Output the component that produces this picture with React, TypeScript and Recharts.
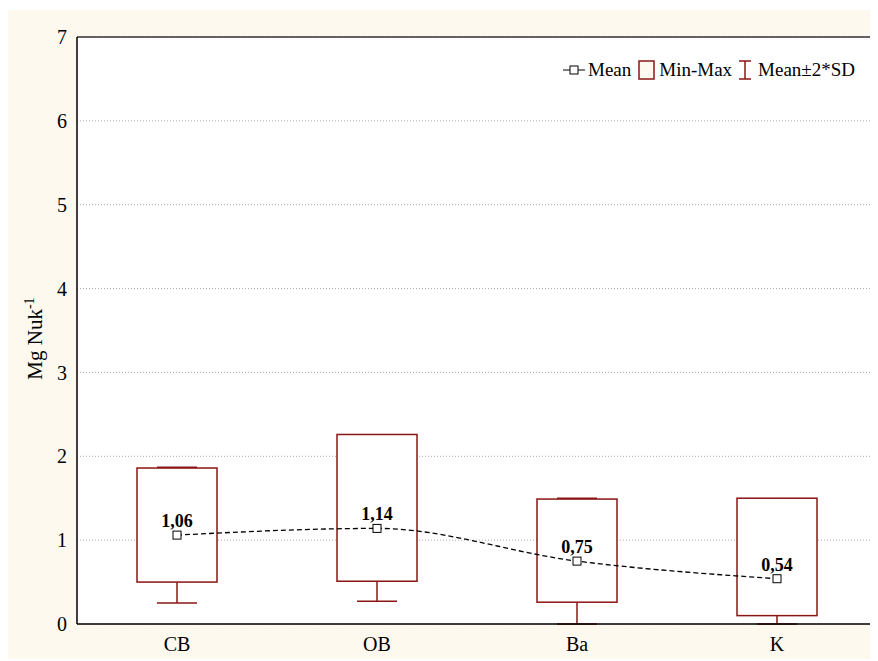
import {
  ComposedChart,
  Bar,
  Line,
  XAxis,
  YAxis,
  CartesianGrid,
  Legend,
  LabelList,
} from 'recharts';

const categories = ['CB', 'OB', 'Ba', 'K'];
const meanValues = [1.06, 1.14, 0.75, 0.54];
const minValues = [0.5, 0.51, 0.26, 0.1];
const maxValues = [1.86, 2.26, 1.49, 1.5];
// mean ± 2*SD, clipped at the axis floor
const sdLow = [0.25, 0.27, 0, 0];
const sdHigh = [1.87, 2.01, 1.5, 1.14];
const yTicks = [0, 1, 2, 3, 4, 5, 6, 7];

const data = categories.map((name, i) => ({
  name,
  mean: meanValues[i],
  min: minValues[i],
  max: maxValues[i],
  lo: sdLow[i],
  hi: sdHigh[i],
}));

const RED = '#8b1414';
const CREAM = '#fdf9ef';
const FONT = '"Liberation Serif", "Times New Roman", serif';

function BoxShape(props: any) {
  const { x, y, width, height, payload } = props;
  const top = Math.min(y, y + height);
  const h = Math.abs(height);
  const ppu = h / (payload.max - payload.min);
  const toY = (v: number) => top + (payload.max - v) * ppu;
  const cx = x + width / 2;
  const cap = width / 4;
  const yLo = toY(payload.lo);
  const yHi = toY(payload.hi);
  return (
    <g>
      <line x1={cx} x2={cx} y1={top + h} y2={yLo} stroke={RED} strokeWidth={1.5} />
      <line x1={cx - cap} x2={cx + cap} y1={yLo} y2={yLo} stroke={RED} strokeWidth={1.5} />
      <line x1={cx} x2={cx} y1={top} y2={yHi} stroke={RED} strokeWidth={1.5} />
      <line x1={cx - cap} x2={cx + cap} y1={yHi} y2={yHi} stroke={RED} strokeWidth={1.5} />
      <rect x={x} y={top} width={width} height={h} fill="#fff" stroke={RED} strokeWidth={1.5} />
    </g>
  );
}

function MeanDot(props: any) {
  const { cx, cy } = props;
  if (cx == null || cy == null) return null;
  return <rect x={cx - 4} y={cy - 4} width={8} height={8} fill="#fff" stroke="#000" strokeWidth={1} />;
}

function YLabel(props: any) {
  const { viewBox } = props;
  const cy = viewBox.y + viewBox.height / 2 + 8;
  const x = 35;
  return (
    <text
      x={x}
      y={cy}
      transform={`rotate(-90 ${x} ${cy})`}
      textAnchor="middle"
      fontFamily={FONT}
      fontSize={21}
      fill="#000"
    >
      Mg Nuk
      <tspan dy={-8} fontSize={14}>-1</tspan>
    </text>
  );
}

function LegendContent() {
  const text = { fontFamily: FONT, fontSize: 19, color: '#000', lineHeight: '20px' };
  return (
    <div style={{ display: 'flex', alignItems: 'center', ...text }}>
      <svg width={22} height={20} style={{ marginRight: 3 }}>
        <line x1={0} x2={22} y1={10} y2={10} stroke="#000" strokeWidth={1} />
        <rect x={7} y={6} width={8} height={8} fill="#fff" stroke="#000" />
      </svg>
      <span>Mean</span>
      <svg width={17} height={20} style={{ marginLeft: 7, marginRight: 4 }}>
        <rect x={1} y={1} width={15} height={18} fill={CREAM} stroke={RED} strokeWidth={1.5} />
      </svg>
      <span>Min-Max</span>
      <svg width={16} height={20} style={{ marginLeft: 5, marginRight: 5 }}>
        <line x1={2} x2={14} y1={1} y2={1} stroke={RED} strokeWidth={1.5} />
        <line x1={8} x2={8} y1={1} y2={19} stroke={RED} strokeWidth={1.5} />
        <line x1={2} x2={14} y1={19} y2={19} stroke={RED} strokeWidth={1.5} />
      </svg>
      <span>Mean±2*SD</span>
    </div>
  );
}

export default function App() {
  return (
    <div style={{ position: 'relative', left: -1, top: 2, width: 871, height: 651, background: CREAM }}>
      <ComposedChart
        width={871}
        height={651}
        data={data}
        margin={{ top: 26, right: 0, bottom: 0, left: 0 }}
      >
        <CartesianGrid
          vertical={false}
          fill="#fff"
          stroke="#aaa"
          strokeDasharray="1 2"
          yAxisId="left"
        />
        <XAxis
          dataKey="name"
          height={37}
          tickSize={0}
          tickMargin={13}
          axisLine={{ stroke: '#000', strokeWidth: 1.5 }}
          tick={{ fontFamily: FONT, fontSize: 20, fill: '#000' }}
        />
        <XAxis
          xAxisId="top"
          dataKey="name"
          orientation="top"
          height={1}
          tick={false}
          tickLine={false}
          axisLine={{ stroke: '#333', strokeWidth: 1.5 }}
        />
        <YAxis
          yAxisId="left"
          width={70}
          domain={[0, 7]}
          ticks={yTicks}
          interval={0}
          tickSize={0}
          tickMargin={10}
          axisLine={{ stroke: '#000', strokeWidth: 1.5 }}
          tick={{ fontFamily: FONT, fontSize: 20, fill: '#000' }}
          label={<YLabel />}
        />
        <YAxis
          yAxisId="right"
          orientation="right"
          width={1}
          domain={[0, 7]}
          tick={false}
          tickLine={false}
          axisLine={{ stroke: '#333', strokeWidth: 1.5 }}
        />
        <Legend
          layout="horizontal"
          verticalAlign="middle"
          align="center"
          content={<LegendContent />}
          wrapperStyle={{ top: 50, left: 556, width: 320, height: 20 }}
        />
        <Bar
          yAxisId="left"
          dataKey={(d: any) => [d.min, d.max]}
          barSize={80}
          shape={<BoxShape />}
          isAnimationActive={false}
        />
        <Line
          yAxisId="left"
          dataKey="mean"
          type="monotone"
          stroke="#000"
          strokeWidth={1.3}
          strokeDasharray="5 3"
          dot={<MeanDot />}
          activeDot={false}
          isAnimationActive={false}
        >
          <LabelList
            dataKey="mean"
            position="top"
            offset={8}
            formatter={(v: any) => Number(v).toFixed(2).replace('.', ',')}
            style={{ fontFamily: FONT, fontSize: 18, fontWeight: 'bold', fill: '#000' }}
          />
        </Line>
      </ComposedChart>
    </div>
  );
}
